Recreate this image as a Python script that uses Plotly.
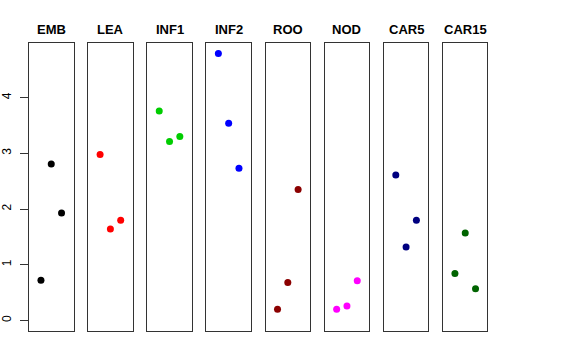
import plotly.graph_objects as go

categories = ["EMB", "LEA", "INF1", "INF2", "ROO", "NOD", "CAR5", "CAR15"]
x_positions = [1, 2, 3]
values = {
    "EMB": [0.72, 2.81, 1.93],
    "LEA": [2.98, 1.64, 1.80],
    "INF1": [3.76, 3.21, 3.30],
    "INF2": [4.79, 3.54, 2.73],
    "ROO": [0.20, 0.68, 2.35],
    "NOD": [0.20, 0.26, 0.71],
    "CAR5": [2.61, 1.32, 1.80],
    "CAR15": [0.84, 1.57, 0.57],
}
y_ticks = [0, 1, 2, 3, 4]

colors = ["#000000", "#FF0000", "#00CD00", "#0000FF", "#8B0000", "#FF00FF", "#000080", "#006400"]

W, H = 576, 360
ml, mr, mt, mb = 29, 88, 43, 29
plot_w = W - ml - mr
step = 59.14
pw = 44.5

fig = go.Figure()
layout = {}
for i, cat in enumerate(categories):
    n = "" if i == 0 else str(i + 1)
    fig.add_trace(go.Scatter(
        x=x_positions, y=values[cat], mode="markers",
        marker=dict(color=colors[i], size=7, line=dict(width=0)),
        xaxis="x" + n, yaxis="y" + n, showlegend=False, hoverinfo="x+y"))
    d0 = i * step / plot_w
    d1 = (i * step + pw) / plot_w
    layout["xaxis" + n] = dict(domain=[d0, min(d1, 1)], range=[-0.16, 4.16],
                               showline=True, mirror=True, linecolor="#333", linewidth=1,
                               showgrid=False, zeroline=False, showticklabels=False, ticks="",
                               anchor="y" + n, fixedrange=True, automargin=False)
    ya = dict(range=[-0.19, 4.98], showline=True, mirror=True, linecolor="#333", linewidth=1,
              showgrid=False, zeroline=False, anchor="x" + n, fixedrange=True, automargin=False)
    if i == 0:
        ya.update(tickvals=y_ticks, ticktext=[str(t) for t in y_ticks], ticks="outside",
                  ticklen=8, tickcolor="#333", tickangle=-90,
                  tickfont=dict(family="Liberation Sans, Arial, sans-serif", size=12, color="black"),
                  ticklabelstandoff=4)
    else:
        ya.update(showticklabels=False, ticks="")
    layout["yaxis" + n] = ya
    fig.add_annotation(text="<b>" + cat + "</b>", xref="x" + n + " domain", yref="paper",
                       x=0.5, y=1, xanchor="center", yanchor="bottom", yshift=4, showarrow=False,
                       font=dict(family="Liberation Sans, Arial, sans-serif", size=13, color="black"))

fig.update_layout(**layout)
fig.update_layout(width=W, height=H, margin=dict(l=ml, r=mr, t=mt, b=mb, autoexpand=False),
                  plot_bgcolor="white", paper_bgcolor="white")
fig.write_html("out.html", config={"displayModeBar": False},
               post_script="document.body.style.margin='0';")
